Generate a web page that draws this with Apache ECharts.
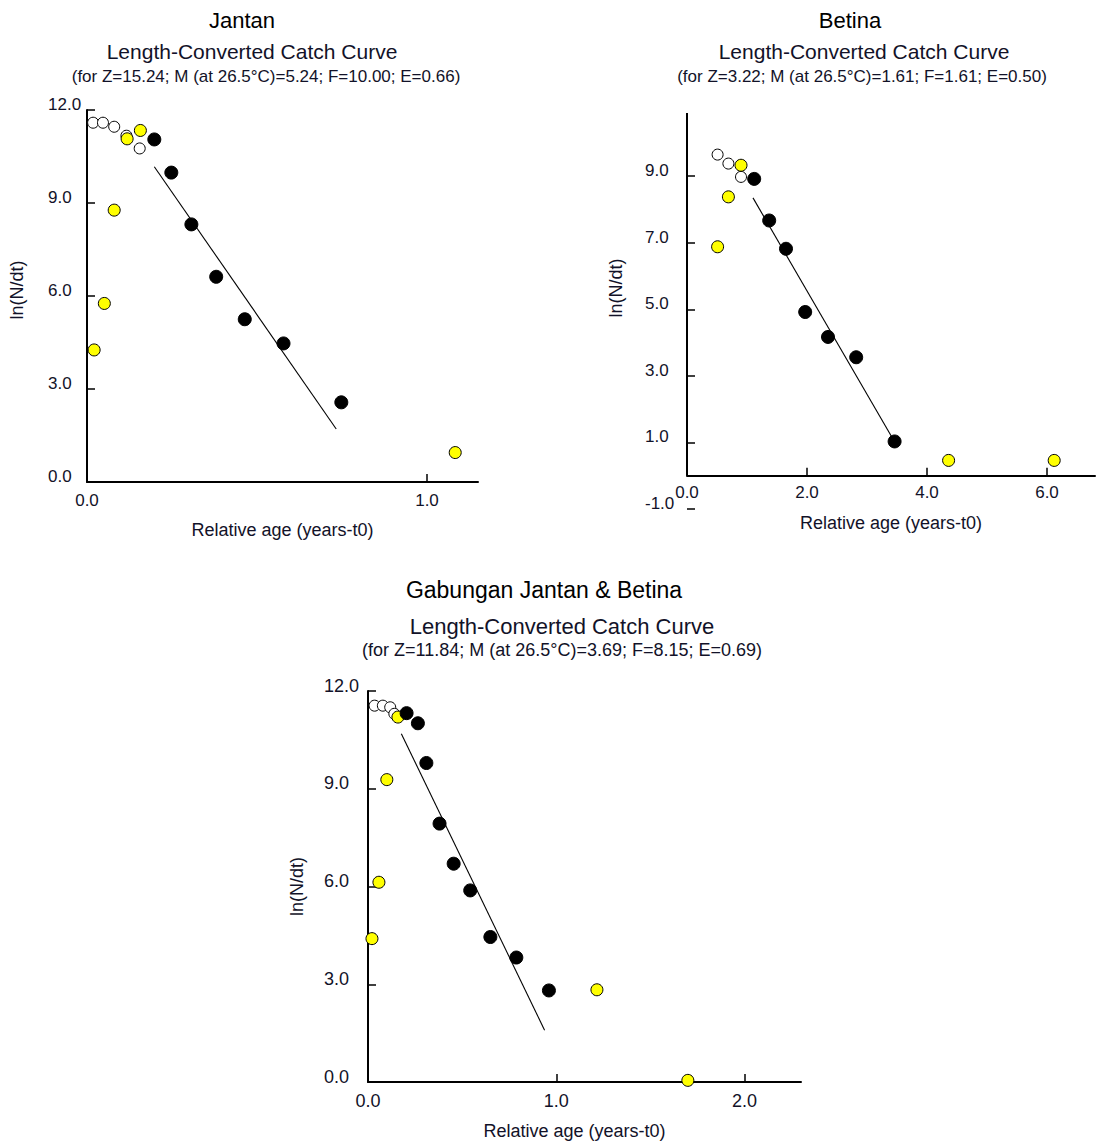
<!DOCTYPE html>
<html><head><meta charset="utf-8">
<script src="https://cdn.jsdelivr.net/npm/echarts@6/dist/echarts.min.js"></script>
<style>html,body{margin:0;padding:0;background:#fff}#c{width:1097px;height:1147px}</style>
</head><body><div id="c"></div>
<script>
// ---------- DATA ----------
// Panel 1: Jantan
const janOpen   = [[0.018,11.59],[0.047,11.59],[0.080,11.46],[0.116,11.17],[0.155,10.76]];
const janYellow = [[0.021,4.26],[0.051,5.76],[0.080,8.77],[0.118,11.07],[0.157,11.34],[1.083,0.95]];
const janBlack  = [[0.198,11.05],[0.248,9.98],[0.307,8.31],[0.380,6.62],[0.464,5.25],[0.578,4.47],[0.748,2.57]];
const janFit    = [[0.198,10.17],[0.733,1.71]];
const janXTicks = [0, 1];
const janYTicks = [0, 3, 6, 9, 12];

// Panel 2: Betina
const betOpen   = [[0.51,9.65],[0.69,9.38],[0.90,8.98]];
const betYellow = [[0.51,6.88],[0.69,8.38],[0.90,9.33],[4.36,0.46],[6.12,0.46]];
const betBlack  = [[1.12,8.92],[1.37,7.67],[1.65,6.82],[1.97,4.92],[2.35,4.17],[2.82,3.56],[3.46,1.03]];
const betFit    = [[1.10,8.35],[3.44,1.08]];
const betXTicks = [0, 2, 4, 6];
const betYTicks = [-1, 1, 3, 5, 7, 9];

// Panel 3: Gabungan Jantan & Betina
const gabOpen   = [[0.035,11.55],[0.079,11.55],[0.118,11.50],[0.140,11.30]];
const gabYellow = [[0.021,4.40],[0.058,6.13],[0.100,9.28],[0.159,11.20],[1.216,2.83],[1.699,0.05]];
const gabBlack  = [[0.205,11.32],[0.265,11.01],[0.310,9.79],[0.380,7.93],[0.455,6.70],[0.543,5.88],[0.650,4.45],[0.788,3.82],[0.961,2.81]];
const gabFit    = [[0.177,10.69],[0.938,1.59]];
const gabXTicks = [0, 1, 2];
const gabYTicks = [0, 3, 6, 9, 12];

const headers   = ['Jantan', 'Betina', 'Gabungan Jantan & Betina'];
const mainTitle = 'Length-Converted Catch Curve';
const subTitles = [
  '(for Z=15.24; M (at 26.5\u00B0C)=5.24; F=10.00; E=0.66)',
  '(for Z=3.22; M (at 26.5\u00B0C)=1.61; F=1.61; E=0.50)',
  '(for Z=11.84; M (at 26.5\u00B0C)=3.69; F=8.15; E=0.69)'
];
const xName = 'Relative age (years-t0)';
const yName = 'ln(N/dt)';

// ---------- LAYOUT / STYLE ----------
const FONT = '"Liberation Sans", Arial, Helvetica, sans-serif';
const TXT = '#121228';

const panels = [
  {grid:{left:87, top:110, width:391, height:372}, xMin:0, xMax:1.15, yMin:0, yMax:12,
   xTicks:janXTicks, yTicks:janYTicks, open:janOpen, yellow:janYellow, black:janBlack, fit:janFit,
   yLabMargin:39, yNameGap:61, yNamePad:[0,0,0,12], xLabMargin:10, xNameGap:39, xNamePad:[0,0,0,0], font:17, nameFont:18,
   head:{x:242,y:20,s:22}, title:{x:252,y:51,s:21}, sub:{x:266,y:76,s:17}, yAxisLineSelf:true},
  {grid:{left:687, top:113, width:408, height:396}, xMin:0, xMax:6.8, yMin:-1, yMax:10.9,
   xTicks:betXTicks, yTicks:betYTicks, open:betOpen, yellow:betYellow, black:betBlack, fit:betFit,
   yLabMargin:42, yNameGap:62, yNamePad:[0,0,0,46], xLabMargin:-25, xNameGap:5, xNamePad:[0,0,0,0], font:17, nameFont:18,
   head:{x:850,y:20,s:22}, title:{x:864,y:51,s:21}, sub:{x:862,y:76,s:17}, yAxisLineSelf:false},
  {grid:{left:368, top:691, width:433, height:391}, xMin:0, xMax:2.3, yMin:0, yMax:12,
   xTicks:gabXTicks, yTicks:gabYTicks, open:gabOpen, yellow:gabYellow, black:gabBlack, fit:gabFit,
   yLabMargin:44, yNameGap:62, yNamePad:[0,0,0,0], xLabMargin:10, xNameGap:40, xNamePad:[0,20,0,0], font:18, nameFont:18,
   head:{x:544,y:590,s:23}, title:{x:562,y:626,s:22}, sub:{x:562,y:650,s:18}, yAxisLineSelf:true}
];

const fmt = v => v.toFixed(1);
const grids = [], xAxes = [], yAxes = [], series = [], graphics = [];

panels.forEach((p, i) => {
  grids.push(Object.assign({outerBoundsMode:'none', containLabel:false}, p.grid));
  xAxes.push({
    type:'value', gridIndex:i, min:p.xMin, max:p.xMax,
    name:xName, nameLocation:'middle', nameGap:p.xNameGap,
    nameTextStyle:{fontFamily:FONT, fontSize:p.nameFont, color:TXT, padding:p.xNamePad},
    axisLine:{show:true, onZero:true, lineStyle:{color:'#000', width:2}},
    axisTick:{show:true, inside:true, length:8, customValues:p.xTicks, lineStyle:{color:'#000', width:1.5}},
    axisLabel:{show:true, customValues:p.xTicks, formatter:fmt, margin:p.xLabMargin,
               fontFamily:FONT, fontSize:p.font, color:TXT},
    splitLine:{show:false}
  });
  yAxes.push({
    type:'value', gridIndex:i, min:p.yMin, max:p.yMax,
    name:yName, nameLocation:'middle', nameGap:p.yNameGap,
    nameTextStyle:{fontFamily:FONT, fontSize:p.nameFont, color:TXT, padding:p.yNamePad},
    axisLine:{show:p.yAxisLineSelf, onZero:false, lineStyle:{color:'#000', width:2}},
    axisTick:{show:true, inside:true, length:8, customValues:p.yTicks, lineStyle:{color:'#000', width:1.5}},
    axisLabel:{show:true, customValues:p.yTicks, formatter:fmt, margin:p.yLabMargin, align:'left',
               verticalAlign:'bottom', lineHeight:11, fontFamily:FONT, fontSize:p.font, color:TXT},
    splitLine:{show:false}
  });
  const fitSeries = {
    type:'line', xAxisIndex:i, yAxisIndex:i, data:p.fit, symbol:'none',
    lineStyle:{color:'#000', width:1.1}, z:2, silent:true
  };
  if (!p.yAxisLineSelf) {
    // y-axis line running from the x-axis (y = 0) up to the top, as in the reference
    fitSeries.markLine = {silent:true, symbol:['none','none'], label:{show:false},
      lineStyle:{color:'#000', width:2, type:'solid'},
      data:[[{coord:[p.xMin, 0]}, {coord:[p.xMin, p.yMax]}]]};
  }
  series.push(fitSeries);
  series.push({type:'scatter', xAxisIndex:i, yAxisIndex:i, data:p.open, symbol:'circle', symbolSize:11,
    itemStyle:{color:'#fff', borderColor:'#000', borderWidth:1, opacity:1}, z:3});
  series.push({type:'scatter', xAxisIndex:i, yAxisIndex:i, data:p.yellow, symbol:'circle', symbolSize:12,
    itemStyle:{color:'#ffff00', borderColor:'#000', borderWidth:1, opacity:1}, z:4});
  series.push({type:'scatter', xAxisIndex:i, yAxisIndex:i, data:p.black, symbol:'circle', symbolSize:13,
    itemStyle:{color:'#000', borderColor:'#000', borderWidth:1, opacity:1}, z:5});

  graphics.push({type:'text', x:p.head.x, y:p.head.y, style:{text:headers[i], align:'center', verticalAlign:'middle',
    fontFamily:FONT, fontSize:p.head.s, fill:'#000'}});
  graphics.push({type:'text', x:p.title.x, y:p.title.y, style:{text:mainTitle, align:'center', verticalAlign:'middle',
    fontFamily:FONT, fontSize:p.title.s, fill:TXT}});
  graphics.push({type:'text', x:p.sub.x, y:p.sub.y, style:{text:subTitles[i], align:'center', verticalAlign:'middle',
    fontFamily:FONT, fontSize:p.sub.s, fill:TXT}});
});

const chart = echarts.init(document.getElementById('c'), null, {renderer:'svg'});
chart.setOption({
  animation:false,
  backgroundColor:'#fff',
  textStyle:{fontFamily:FONT},
  grid:grids, xAxis:xAxes, yAxis:yAxes, series:series, graphic:graphics
});
</script>
</body></html>
